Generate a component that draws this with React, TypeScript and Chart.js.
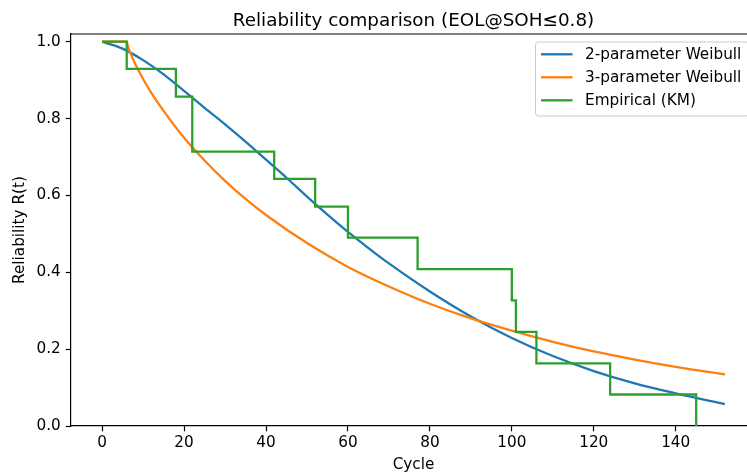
import React, { useEffect, useRef } from "react";
import { Chart, registerables } from "chart.js";

Chart.register(...registerables);

// ---- Data ----
const TITLE = "Reliability comparison (EOL@SOH≤0.8)";
const X_LABEL = "Cycle";
const Y_LABEL = "Reliability R(t)";
const SERIES_NAMES = ["2-parameter Weibull", "3-parameter Weibull", "Empirical (KM)"];

// 2-parameter Weibull curve (cycle, reliability)
const weibull2Cycles = [0, 5, 10, 15, 20, 25, 30, 35, 40, 45, 50, 55, 60, 65, 70, 80, 90, 100, 110, 120, 130, 140, 152];
const weibull2Rel = [1.0, 0.982, 0.952, 0.915, 0.872, 0.828, 0.785, 0.74, 0.693, 0.646, 0.597, 0.55, 0.505, 0.463, 0.423, 0.35, 0.285, 0.229, 0.182, 0.143, 0.111, 0.085, 0.057];

// 3-parameter Weibull curve (cycle, reliability)
const weibull3Cycles = [0, 6, 6.3, 7, 8, 10, 12, 15, 20, 25, 30, 35, 40, 50, 60, 70, 80, 90, 100, 110, 120, 130, 140, 152];
const weibull3Rel = [1.0, 1.0, 0.988, 0.968, 0.944, 0.903, 0.867, 0.82, 0.75, 0.691, 0.638, 0.591, 0.549, 0.476, 0.414, 0.363, 0.318, 0.28, 0.248, 0.219, 0.194, 0.173, 0.154, 0.134];

// Kaplan-Meier empirical steps (cycle, survival)
const kmCycles = [0, 6, 18, 22, 42, 52, 60, 77, 100, 101, 106, 124, 145];
const kmRel = [1.0, 0.929, 0.857, 0.714, 0.643, 0.571, 0.49, 0.408, 0.327, 0.245, 0.163, 0.082, 0.0];

// Axis ranges / ticks
const X_MIN = -7.6;
const X_MAX = 159.6;
const X_STEP = 20;
const Y_MIN = 0;
const Y_MAX = 1.02;
const Y_STEP = 0.2;

// ---- Styles ----
const COLORS = ["#1f77b4", "#ff7f0e", "#2ca02c"];
const FONT = '"DejaVu Sans", "Liberation Sans", sans-serif';
const FS = 15.28;
const TITLE_FS = 18.33;
const LW = 2.29;

const toPoints = (xs: number[], ys: number[]) => xs.map((x, i) => ({ x, y: ys[i] }));

const decorPlugin = {
  id: "decor",
  afterDraw(chart: any) {
    const { ctx, chartArea: ca } = chart;
    ctx.save();
    // top & right spines
    ctx.strokeStyle = "#000";
    ctx.lineWidth = 1.2;
    ctx.beginPath();
    ctx.moveTo(ca.left, ca.top);
    ctx.lineTo(ca.right, ca.top);
    ctx.lineTo(ca.right, ca.bottom);
    ctx.stroke();

    const cx = (ca.left + ca.right) / 2;
    ctx.fillStyle = "#000";
    // title
    ctx.font = `${TITLE_FS}px ${FONT}`;
    ctx.textAlign = "center";
    ctx.textBaseline = "alphabetic";
    ctx.fillText(TITLE, cx, ca.top - 8.5);
    // x label
    ctx.font = `${FS}px ${FONT}`;
    ctx.textBaseline = "middle";
    ctx.fillText(X_LABEL, cx, ca.bottom + 39);
    // y label
    ctx.save();
    ctx.translate(20.5, (ca.top + ca.bottom) / 2);
    ctx.rotate(-Math.PI / 2);
    ctx.fillText(Y_LABEL, 0, 0);
    ctx.restore();

    // legend
    const boxLeft = ca.right - 220.5;
    const boxRight = ca.right - 7;
    const boxTop = ca.top + 8;
    const boxBottom = ca.top + 82;
    const r = 3;
    ctx.beginPath();
    ctx.moveTo(boxLeft + r, boxTop);
    ctx.lineTo(boxRight - r, boxTop);
    ctx.arcTo(boxRight, boxTop, boxRight, boxTop + r, r);
    ctx.lineTo(boxRight, boxBottom - r);
    ctx.arcTo(boxRight, boxBottom, boxRight - r, boxBottom, r);
    ctx.lineTo(boxLeft + r, boxBottom);
    ctx.arcTo(boxLeft, boxBottom, boxLeft, boxBottom - r, r);
    ctx.lineTo(boxLeft, boxTop + r);
    ctx.arcTo(boxLeft, boxTop, boxLeft + r, boxTop, r);
    ctx.closePath();
    ctx.fillStyle = "rgba(255,255,255,0.8)";
    ctx.fill();
    ctx.strokeStyle = "#cccccc";
    ctx.lineWidth = 1;
    ctx.stroke();

    ctx.font = `${FS}px ${FONT}`;
    ctx.textAlign = "left";
    ctx.textBaseline = "middle";
    SERIES_NAMES.forEach((name, i) => {
      const y = ca.top + 20.3 + i * 23;
      ctx.strokeStyle = COLORS[i];
      ctx.lineWidth = LW;
      ctx.beginPath();
      ctx.moveTo(boxLeft + 5.5, y);
      ctx.lineTo(boxLeft + 37, y);
      ctx.stroke();
      ctx.fillStyle = "#000";
      ctx.fillText(name, boxLeft + 49.5, y + 1);
    });
    ctx.restore();
  },
};

export default function App() {
  const canvasRef = useRef<HTMLCanvasElement | null>(null);

  useEffect(() => {
    const canvas = canvasRef.current;
    if (!canvas) return;
    const chart = new Chart(canvas, {
      type: "line",
      data: {
        datasets: [
          {
            label: SERIES_NAMES[0],
            data: toPoints(weibull2Cycles, weibull2Rel),
            borderColor: COLORS[0],
            borderWidth: LW,
            pointRadius: 0,
            fill: false,
            cubicInterpolationMode: "monotone",
            order: 2,
          },
          {
            label: SERIES_NAMES[1],
            data: toPoints(weibull3Cycles, weibull3Rel),
            borderColor: COLORS[1],
            borderWidth: LW,
            pointRadius: 0,
            fill: false,
            cubicInterpolationMode: "monotone",
            order: 1,
          },
          {
            label: SERIES_NAMES[2],
            data: toPoints(kmCycles, kmRel),
            borderColor: COLORS[2],
            borderWidth: LW,
            pointRadius: 0,
            fill: false,
            stepped: "before",
            order: 0,
          },
        ],
      },
      options: {
        animation: false,
        responsive: false,
        devicePixelRatio: 1,
        layout: { padding: { top: 34, right: 14, left: 0, bottom: 0 } },
        plugins: { legend: { display: false }, tooltip: { enabled: false }, title: { display: false } },
        scales: {
          x: {
            type: "linear",
            min: X_MIN,
            max: X_MAX,
            afterFit: (s: any) => { s.height = 47; },
            ticks: {
              stepSize: X_STEP,
              includeBounds: false,
              color: "#000",
              font: { family: FONT, size: FS },
              padding: 3,
              maxRotation: 0,
            },
            grid: { drawOnChartArea: false, drawTicks: true, tickLength: 5.3, tickColor: "#000", tickWidth: 1.2 },
            border: { display: true, color: "#000", width: 1.2 },
          },
          y: {
            type: "linear",
            min: Y_MIN,
            max: Y_MAX,
            afterFit: (s: any) => { s.width = 71; },
            ticks: {
              stepSize: Y_STEP,
              includeBounds: false,
              color: "#000",
              font: { family: FONT, size: FS },
              padding: 5,
              callback: (v: any) => Number(v).toFixed(1),
            },
            grid: { drawOnChartArea: false, drawTicks: true, tickLength: 5.3, tickColor: "#000", tickWidth: 1.2 },
            border: { display: true, color: "#000", width: 1.2 },
          },
        },
      },
      plugins: [decorPlugin],
    });
    return () => chart.destroy();
  }, []);

  return (
    <div style={{ position: "fixed", left: 0, top: 0, width: 747, height: 473, overflow: "hidden", background: "#fff" }}>
      <canvas ref={canvasRef} width={770} height={473} style={{ display: "block", width: 770, height: 473 }} />
    </div>
  );
}
